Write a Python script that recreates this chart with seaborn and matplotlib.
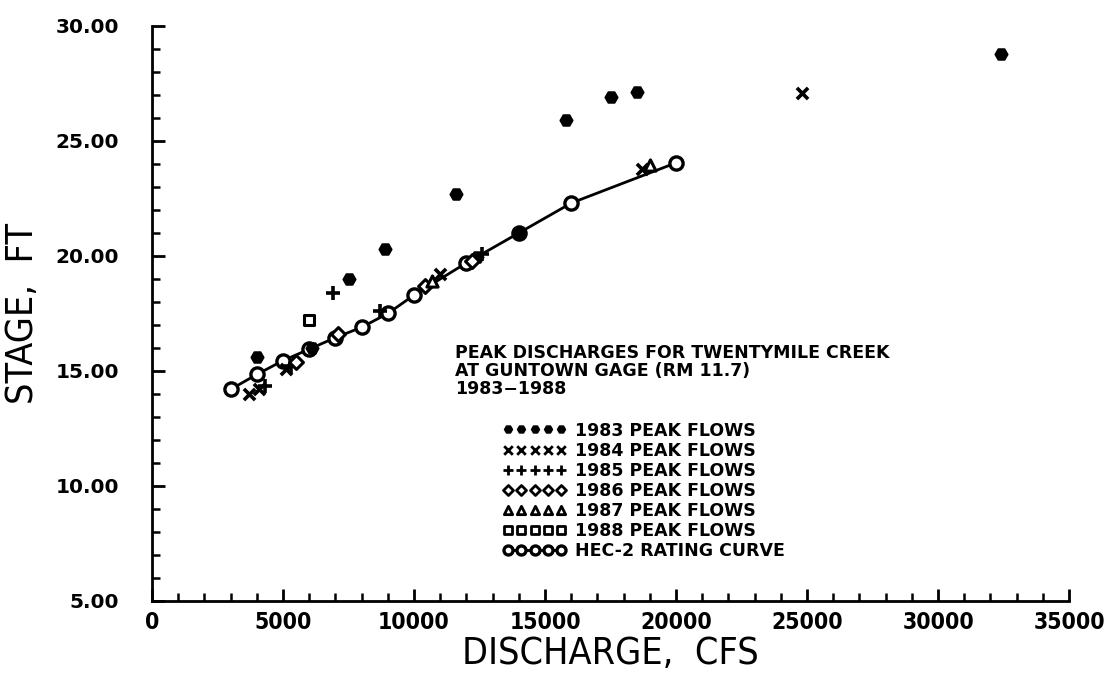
import matplotlib
matplotlib.use("Agg")
import matplotlib.pyplot as plt
import seaborn as sns
from matplotlib.ticker import MultipleLocator, FormatStrFormatter
from matplotlib import font_manager

# HEC-2 computed rating curve
hec_q = [3000, 4000, 5000, 6000, 7000, 8000, 9000, 10000, 12000, 14000, 16000, 20000]
hec_stage = [14.2, 14.85, 15.45, 15.95, 16.45, 16.9, 17.5, 18.3, 19.7, 21.0, 22.3, 24.05]

# Observed annual peak flows (discharge in cfs, stage in ft)
q_1983 = [4000, 6100, 7500, 8900, 11600, 12400, 14000, 15800, 17500, 18500, 32400]
s_1983 = [15.6, 16.0, 19.0, 20.3, 22.7, 19.95, 21.0, 25.9, 26.9, 27.15, 28.8]

q_1984 = [3700, 4100, 5100, 11000, 18700, 24800]
s_1984 = [14.0, 14.2, 15.1, 19.2, 23.8, 27.1]

q_1985 = [4300, 5300, 6900, 8700, 12600]
s_1985 = [14.35, 15.2, 18.4, 17.6, 20.1]

q_1986 = [5500, 7100, 10400, 12200]
s_1986 = [15.4, 16.6, 18.7, 19.8]

q_1987 = [10700, 19000]
s_1987 = [18.9, 23.95]

q_1988 = [6000]
s_1988 = [17.2]

legend_labels = ["1983 PEAK FLOWS", "1984 PEAK FLOWS", "1985 PEAK FLOWS",
                 "1986 PEAK FLOWS", "1987 PEAK FLOWS", "1988 PEAK FLOWS",
                 "HEC-2 RATING CURVE"]

title_lines = ["PEAK DISCHARGES FOR TWENTYMILE CREEK",
               "AT GUNTOWN GAGE (RM 11.7)",
               "1983\u22121988"]

sns.set_style("ticks")
ink = "black"
plt.rcParams.update({
    "font.family": ["DejaVu Sans"],
    "text.color": ink,
    "axes.labelcolor": ink,
    "xtick.color": ink,
    "ytick.color": ink,
    "axes.edgecolor": ink,
})

fig = plt.figure(figsize=(11.09, 6.78), dpi=100)
ax = fig.add_axes([0.1371, 0.1136, 0.8269, 0.8481])

sns.scatterplot(x=q_1983, y=s_1983, ax=ax, marker="H", s=85, color=ink,
                edgecolor=ink, linewidth=1, label=legend_labels[0], zorder=4)
sns.scatterplot(x=q_1984, y=s_1984, ax=ax, marker="x", s=65, color=ink,
                linewidth=2.6, label=legend_labels[1], zorder=4)
sns.scatterplot(x=q_1985, y=s_1985, ax=ax, marker="+", s=95, color=ink,
                linewidth=2.6, label=legend_labels[2], zorder=4)
sns.scatterplot(x=q_1986, y=s_1986, ax=ax, marker="D", s=50, color="white",
                edgecolor=ink, linewidth=2.2, label=legend_labels[3], zorder=4)
sns.scatterplot(x=q_1987, y=s_1987, ax=ax, marker="^", s=65, color="white",
                edgecolor=ink, linewidth=2.2, label=legend_labels[4], zorder=4)
sns.scatterplot(x=q_1988, y=s_1988, ax=ax, marker="s", s=60, color="white",
                edgecolor=ink, linewidth=2.2, label=legend_labels[5], zorder=4)
sns.lineplot(x=hec_q, y=hec_stage, ax=ax, color=ink, linewidth=2, marker="o",
             markersize=9.5, markerfacecolor="white", markeredgecolor=ink,
             markeredgewidth=2.4, label=legend_labels[6], zorder=3)

ax.set_xlim(0, 35000)
ax.set_ylim(5, 30)
ax.xaxis.set_major_locator(MultipleLocator(5000))
ax.xaxis.set_minor_locator(MultipleLocator(1000))
ax.yaxis.set_major_locator(MultipleLocator(5))
ax.yaxis.set_minor_locator(MultipleLocator(1))
ax.yaxis.set_major_formatter(FormatStrFormatter("%.2f"))
ax.xaxis.set_major_formatter(FormatStrFormatter("%d"))

for side in ("top", "right"):
    ax.spines[side].set_visible(False)
for side in ("left", "bottom"):
    ax.spines[side].set_linewidth(2)

ax.tick_params(which="major", direction="in", length=9, width=2)
ax.tick_params(which="minor", direction="in", length=5.5, width=1.8)
ax.tick_params(axis="y", which="major", pad=24)
ax.tick_params(axis="x", which="major", pad=7)

condensed = font_manager.FontProperties(family="DejaVu Sans", weight="bold",
                                        stretch="condensed", size=16.5)
for lab in ax.get_yticklabels():
    lab.set_fontweight("bold")
    lab.set_fontsize(14.5)
for lab in ax.get_xticklabels():
    lab.set_fontproperties(condensed)

label_font = font_manager.FontProperties(family="DejaVu Sans",
                                         stretch="condensed", size=27)
ax.set_xlabel("DISCHARGE,  CFS", fontproperties=label_font, labelpad=2)
ax.set_ylabel("STAGE,  FT", fontproperties=label_font, labelpad=10)

ax.text(0.330, 0.447, "\n".join(title_lines), transform=ax.transAxes,
        ha="left", va="top", fontsize=12.5, fontweight="bold",
        linespacing=1.0)

leg = ax.legend(loc="upper left", bbox_to_anchor=(0.383, 0.312),
                frameon=False, numpoints=5, scatterpoints=5,
                scatteryoffsets=[0.5], handlelength=3.6, handletextpad=0.55,
                labelspacing=0.12, borderpad=0, borderaxespad=0,
                prop={"weight": "bold", "size": 12.5})
# legend symbol sizes and stroke widths, one per entry in drawing order
legend_symbol_sizes = [36, 38, 55, 26, 36, 30]
legend_symbol_widths = [0.8, 2.0, 2.0, 2.0, 2.0, 2.0]
for h, size, lw in zip(leg.legend_handles, legend_symbol_sizes,
                       legend_symbol_widths):
    h.set_sizes([size])
    h.set_linewidths(lw)
leg.legend_handles[-1].set_markersize(6.5)

fig.savefig("out.png", dpi=100)
